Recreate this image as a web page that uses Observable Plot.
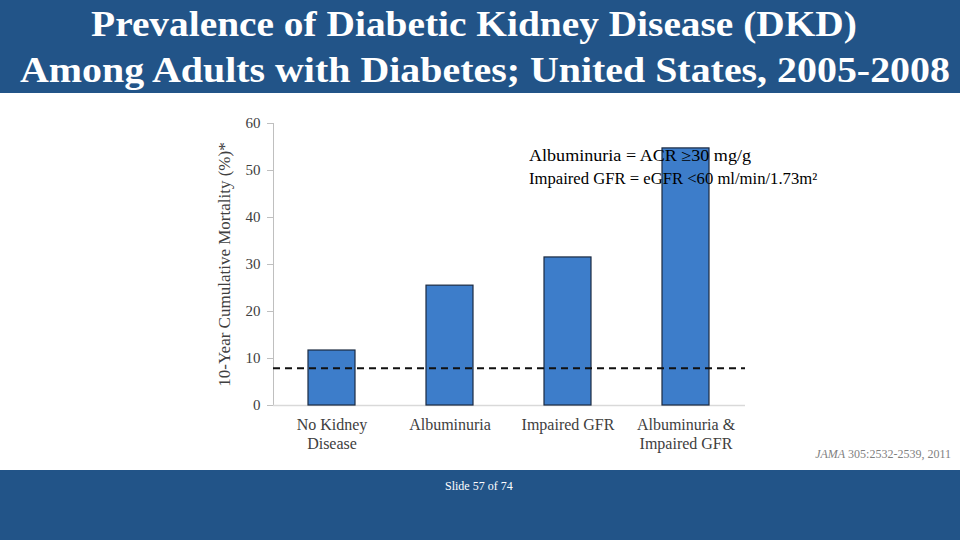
<!DOCTYPE html>
<html>
<head>
<meta charset="utf-8">
<script src="https://cdn.jsdelivr.net/npm/d3@7"></script>
<script src="https://cdn.jsdelivr.net/npm/@observablehq/plot@0.6"></script>
<style>
  html, body { margin: 0; padding: 0; background: #fff; }
  #slide { position: relative; width: 960px; height: 540px; overflow: hidden; background: #fff; font-family: "Liberation Serif", "Times New Roman", serif; }
  #header { position: absolute; left: 0; top: 0; width: 960px; height: 93px; background: #225488; }
  .tline { position: absolute; left: 0; width: 960px; text-align: center; color: #fff; font-weight: bold; font-size: 35px; line-height: 46px; white-space: nowrap; }
  #t1 { top: 2px; transform: translateX(-6px) scaleX(1.125); transform-origin: 480px 0; }
  #t2 { top: 48px; transform: translateX(5px) scaleX(1.14); transform-origin: 480px 0; }
  #footer { position: absolute; left: 0; top: 470px; width: 960px; height: 70px; background: #225488; }
  #slidenum { position: absolute; left: 445px; top: 479px; color: #fff; font-size: 12px; }
  #chart { position: absolute; left: 0; top: 93px; }
  #note { position: absolute; left: 529px; top: 144px; color: #000; font-size: 16px; line-height: 23px; white-space: nowrap; }
  #note div { transform-origin: 0 0; }
  #n1 { transform: scaleX(1.13); }
  #n2 { transform: scaleX(1.04); }
  #cite { position: absolute; right: 9px; top: 447px; color: #7f7f7f; font-size: 12px; }
</style>
</head>
<body>
<div id="slide">
  <div id="header"></div>
  <div class="tline" id="t1">Prevalence of Diabetic Kidney Disease (DKD)</div>
  <div class="tline" id="t2">Among Adults with Diabetes; United States, 2005-2008</div>
  <div id="chart"></div>
  <div id="note"><div id="n1">Albuminuria = ACR ≥30 mg/g</div><div id="n2">Impaired GFR = eGFR &lt;60 ml/min/1.73m²</div></div>
  <div id="cite"><i>JAMA</i> 305:2532-2539, 2011</div>
  <div id="footer"></div>
  <div id="slidenum">Slide 57 of 74</div>
</div>
<script>
const categories = ["No Kidney\nDisease", "Albuminuria", "Impaired GFR", "Albuminuria &\nImpaired GFR"];
const mortality = [11.7, 25.5, 31.5, 54.7];
const referenceMortality = 7.9;
const yTicks = [0, 10, 20, 30, 40, 50, 60];
const yLabel = "10-Year Cumulative Mortality (%)*";

const data = categories.map((c, i) => ({category: c, value: mortality[i]}));

const chart = Plot.plot({
  width: 960,
  height: 377,
  marginLeft: 273,
  marginRight: 215,
  marginTop: 30,
  marginBottom: 65,
  style: {fontFamily: "Liberation Serif, Times New Roman, serif", fontSize: "15px", color: "#404040", background: "transparent"},
  x: {domain: categories, paddingInner: 0.6, paddingOuter: 0.3, label: null},
  y: {domain: [0, 60], label: null},
  marks: [
    Plot.frame({anchor: "left", stroke: "#bfbfbf"}),
    Plot.ruleY([0], {stroke: "#d9d9d9", strokeWidth: 1.5}),
    Plot.barY(data, {x: "category", y: "value", fill: "#3d7dca", stroke: "#1b2a41", strokeWidth: 1.2}),
    Plot.ruleY([referenceMortality], {stroke: "#111", strokeWidth: 2, strokeDasharray: "7,5"}),
    Plot.axisY({ticks: yTicks, tickSize: 6, tickPadding: 7, stroke: "#bfbfbf", fontSize: 15, tickFormat: d => d}),
    Plot.axisY({ticks: [], tickSize: 0, fontSize: 17, label: yLabel, labelAnchor: "center", labelArrow: "none", labelOffset: 56}),
    Plot.axisX({tickSize: 0, tickPadding: 11, fontSize: 16, lineHeight: 1.2, label: null})
  ]
});
document.getElementById("chart").appendChild(chart);
</script>
</body>
</html>
